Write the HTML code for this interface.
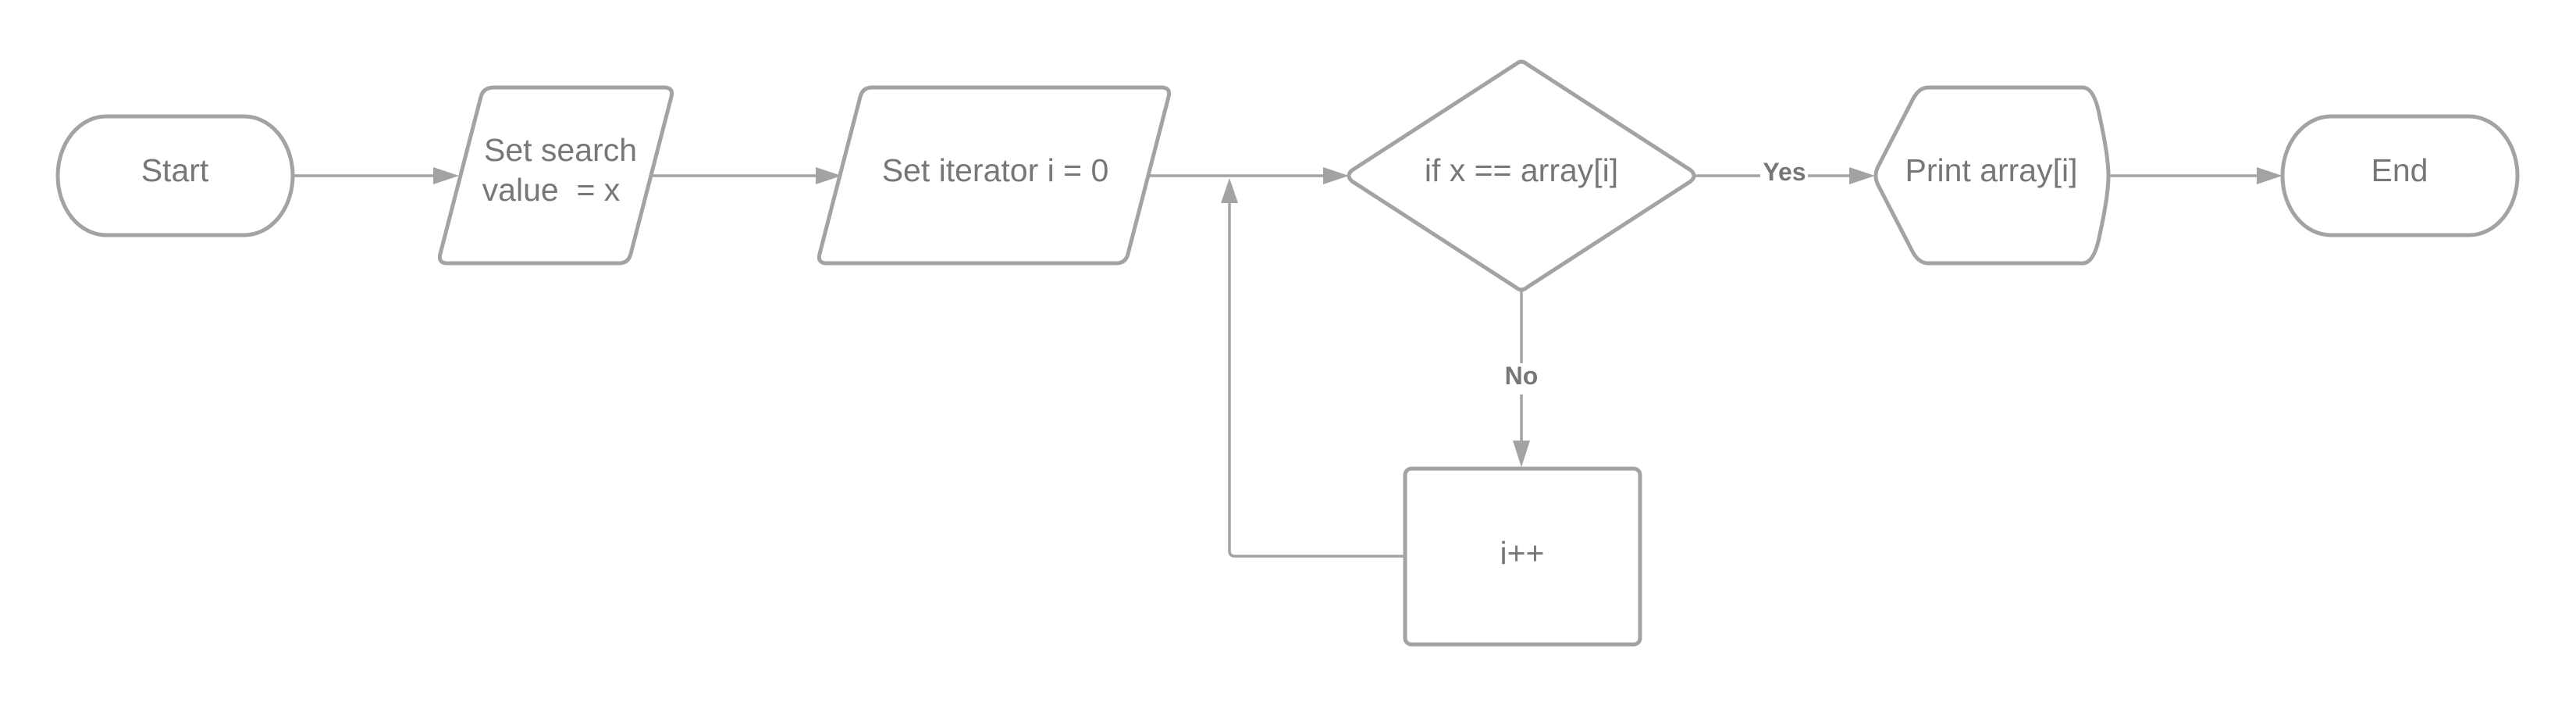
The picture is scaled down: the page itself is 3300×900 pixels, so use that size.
<!DOCTYPE html>
<html><head><meta charset="utf-8"><style>
html,body{margin:0;padding:0;background:#fff}
svg{display:block}
text{font-family:"Liberation Sans",sans-serif;fill:#777}
.s{fill:#fff;stroke:#a3a3a3;stroke-width:5;stroke-linejoin:round}
.c{fill:none;stroke:#a3a3a3;stroke-width:3.5}
.a{fill:#a3a3a3}
</style></head><body>
<svg width="3300" height="900" viewBox="0 0 3300 900">
<g>
<line class="c" x1="375" y1="225" x2="560" y2="225"/>
<polygon class="a" points="588,225 555,214 555,236"/>
<line class="c" x1="833" y1="225" x2="1050" y2="225"/>
<polygon class="a" points="1078,225 1045,214 1045,236"/>
<line class="c" x1="1472" y1="225" x2="1700" y2="225"/>
<polygon class="a" points="1728,225 1695,214 1695,236"/>
<line class="c" x1="2172" y1="225" x2="2255" y2="225"/>
<line class="c" x1="2316" y1="225" x2="2375" y2="225"/>
<polygon class="a" points="2402,225 2369,214 2369,236"/>
<line class="c" x1="2701" y1="225" x2="2898" y2="225"/>
<polygon class="a" points="2924,225 2891,214 2891,236"/>
<line class="c" x1="1949" y1="373" x2="1949" y2="465"/>
<line class="c" x1="1949" y1="505" x2="1949" y2="570"/>
<polygon class="a" points="1949,598 1938,564 1960,564"/>
<path class="c" d="M1800,712 H1582 Q1575,712 1575,705 V255"/>
<polygon class="a" points="1575,228 1564,260 1586,260"/>
</g>
<g>
<rect class="s" x="74" y="149" width="301" height="152" rx="62" ry="76"/>
<text x="224" y="232" font-size="41" text-anchor="middle">Start</text>
</g>
<g>
<path class="s" d="M633,112 H851 Q863,112 860,124 L808,325 Q805,337 793,337 H573 Q561,337 564,325 L616,124 Q619,112 633,112 Z"/>
<text x="718" y="206" font-size="41" text-anchor="middle">Set search</text>
<text x="706" y="257" font-size="41" text-anchor="middle">value &#160;= x</text>
</g>
<g>
<path class="s" d="M1117,112 H1488 Q1500,112 1497,124 L1445,325 Q1442,337 1430,337 H1059 Q1047,337 1050,325 L1102,124 Q1105,112 1117,112 Z"/>
<text x="1275" y="232" font-size="41" text-anchor="middle">Set iterator i = 0</text>
</g>
<g>
<path class="s" d="M1942,82 Q1949,76 1956,82 L2166,218 Q2174,225 2166,232 L1956,368 Q1949,374 1942,368 L1732,232 Q1724,225 1732,218 Z"/>
<text x="1949" y="232" font-size="41" text-anchor="middle">if x == array[i]</text>
</g>
<g>
<path class="s" d="M2470,112 H2668 Q2683,112 2690,150 Q2701,200 2701,225 Q2701,250 2690,300 Q2683,337 2668,337 H2470 Q2458,337 2450,322 L2406,237 Q2400,225 2406,213 L2450,128 Q2458,112 2470,112 Z"/>
<text x="2551" y="232" font-size="41" text-anchor="middle">Print array[i]</text>
</g>
<g>
<rect class="s" x="2924" y="149" width="301" height="152" rx="62" ry="76"/>
<text x="3074" y="232" font-size="41" text-anchor="middle">End</text>
</g>
<g>
<rect class="s" x="1800" y="600" width="301" height="225" rx="8"/>
<text x="1950" y="722" font-size="41" text-anchor="middle">i++</text>
</g>
<text x="2286" y="231" font-size="32" font-weight="bold" text-anchor="middle">Yes</text>
<text x="1949" y="492" font-size="32" font-weight="bold" text-anchor="middle">No</text>
</svg>
</body></html>
